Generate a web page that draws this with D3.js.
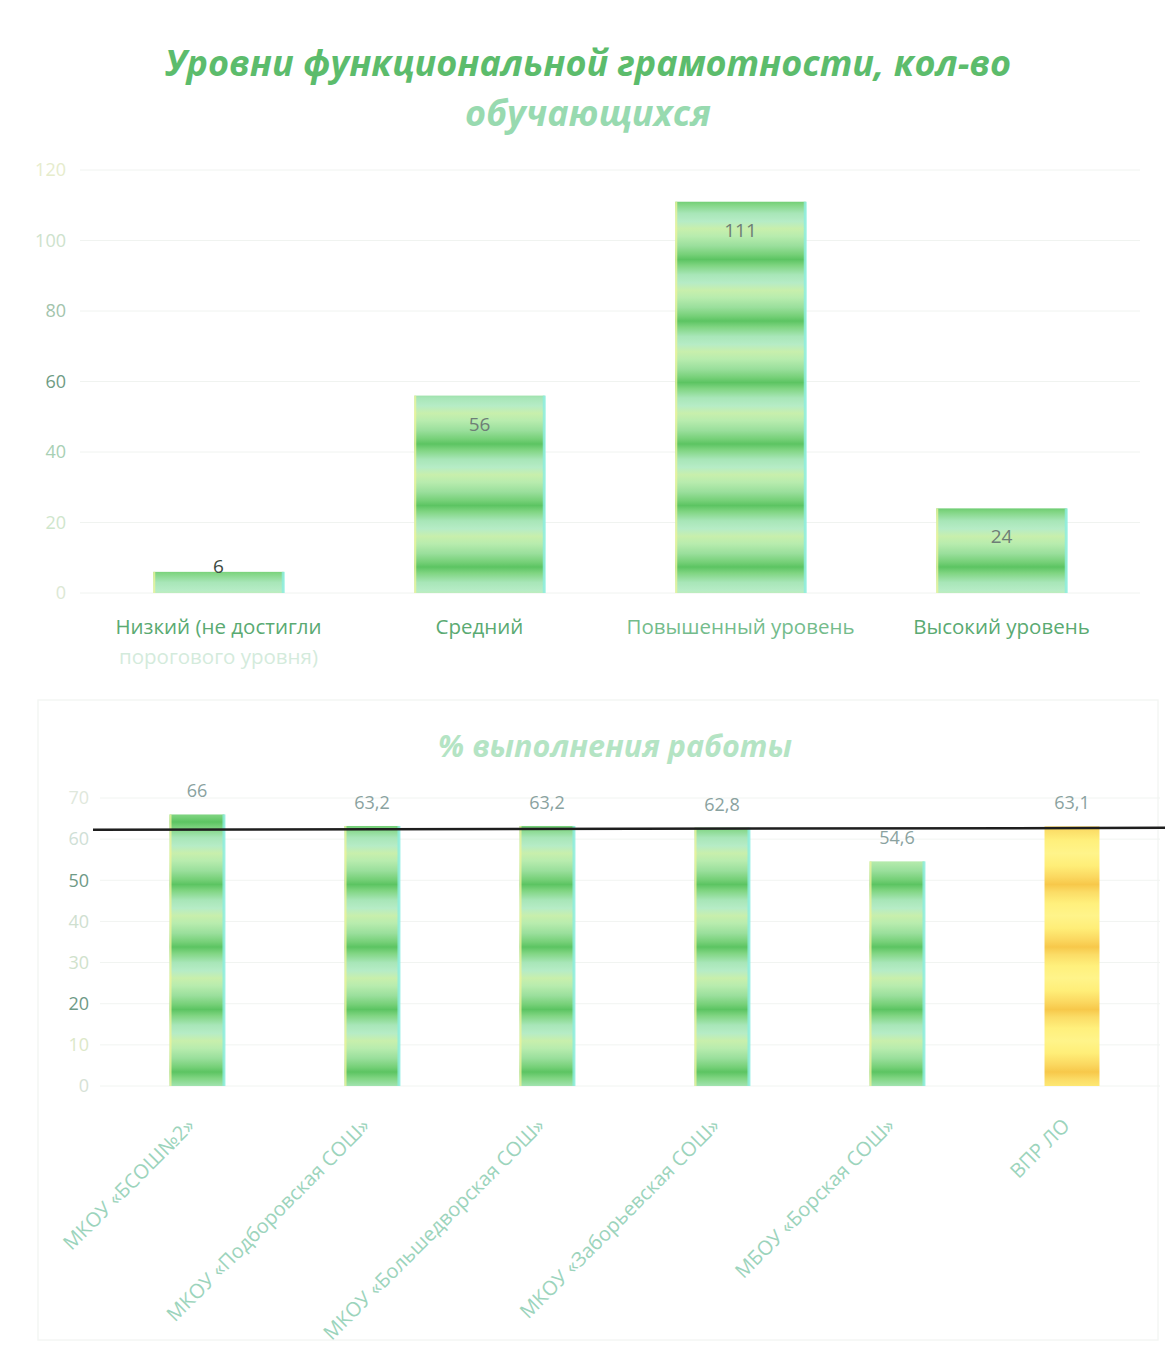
<!DOCTYPE html>
<html>
<head>
<meta charset="utf-8">
<script src="https://cdn.jsdelivr.net/npm/d3@7"></script>
<style>
  html, body { margin: 0; padding: 0; background: #fff; }
  svg { display: block; font-family: "Open Sans", "Noto Sans", sans-serif; }
</style>
</head>
<body>
<svg id="chart" width="1165" height="1347"></svg>
<script>
// ---------- DATA ----------
const levelTitle = ["Уровни функциональной грамотности, кол-во", "обучающихся"];
const levelCategories = [
  ["Низкий (не достигли", "порогового уровня)"],
  ["Средний"],
  ["Повышенный уровень"],
  ["Высокий уровень"]
];
const levelValues = [6, 56, 111, 24];
const levelTicks = [0, 20, 40, 60, 80, 100, 120];

const pctTitle = "% выполнения работы";
const schools = [
  "МКОУ «БСОШ№2»",
  "МКОУ «Подборовская СОШ»",
  "МКОУ «Большедворская СОШ»",
  "МКОУ «Заборьевская СОШ»",
  "МБОУ «Борская СОШ»",
  "ВПР ЛО"
];
const pctValues = [66, 63.2, 63.2, 62.8, 54.6, 63.1];
const pctTicks = [0, 10, 20, 30, 40, 50, 60, 70];
const pctReference = 62.5;

// ---------- DRAW ----------
const svg = d3.select("#chart");
const defs = svg.append("defs");

function stripeGradient(id, y0, period, stops) {
  const g = defs.append("linearGradient")
    .attr("id", id)
    .attr("gradientUnits", "userSpaceOnUse")
    .attr("spreadMethod", "repeat")
    .attr("x1", 0).attr("x2", 0)
    .attr("y1", y0).attr("y2", y0 + period);
  stops.forEach(s => g.append("stop").attr("offset", s[0]).attr("stop-color", s[1]));
}
const greenStops = [
  [0.00, "#5cc462"], [0.10, "#80d582"], [0.25, "#a8e6b8"], [0.38, "#b6ecc6"],
  [0.50, "#c8efac"], [0.62, "#b8ecae"], [0.78, "#9adf9c"], [0.92, "#76d078"], [1.00, "#5cc462"]
];
const yellowStops = [
  [0.00, "#f7c84a"], [0.12, "#fbdc66"], [0.30, "#fff07c"], [0.50, "#fff48a"],
  [0.70, "#ffee78"], [0.88, "#fbd860"], [1.00, "#f7c84a"]
];
stripeGradient("gTop", 567 - 61.5 * 9, 61.5, greenStops);
stripeGradient("gBot", 1072 - 62.5 * 16, 62.5, greenStops);
stripeGradient("yBot", 1072 - 62.5 * 16, 62.5, yellowStops);

// ===== Chart 1 =====
const c1 = { left: 88, right: 1132, top: 170, bottom: 593 };
const x1 = d3.scaleBand().domain(d3.range(levelValues.length)).range([c1.left, c1.right]).padding(0.5).paddingOuter(0.25);
const y1 = d3.scaleLinear().domain([0, 120]).range([c1.bottom, c1.top]);

svg.append("g").selectAll("text").data(levelTitle).join("text")
  .attr("x", 588).attr("y", (d, i) => 76 + i * 50)
  .attr("text-anchor", "middle")
  .attr("font-size", 36).attr("font-weight", 700).attr("font-style", "italic")
  .attr("fill", (d, i) => i === 0 ? "#5cbc6c" : "#98dab0")
  .text(d => d);

// gridlines
svg.append("g").selectAll("line").data(levelTicks).join("line")
  .attr("x1", 80).attr("x2", 1140)
  .attr("y1", d => y1(d)).attr("y2", d => y1(d))
  .attr("stroke", "#f0f3f0").attr("stroke-width", 1);

const ax1 = svg.append("g").attr("transform", `translate(66,0)`)
  .call(d3.axisLeft(y1).tickValues(levelTicks).tickSize(0).tickPadding(0));
ax1.select(".domain").remove();
ax1.selectAll("text").attr("font-size", 18).attr("font-family", "Open Sans")
  .attr("fill", d => ({0: "#dce8d4", 20: "#cfe6cc", 40: "#a8d0b4", 60: "#6f9c84", 80: "#a2c4ac", 100: "#cde2cc", 120: "#e6eccc"}[d]));

const bars1 = svg.append("g").selectAll("g").data(levelValues).join("g");
bars1.append("rect")
  .attr("x", (d, i) => x1(i)).attr("width", x1.bandwidth())
  .attr("y", d => y1(d)).attr("height", d => y1(0) - y1(d))
  .attr("fill", "url(#gTop)");
bars1.append("rect")
  .attr("x", (d, i) => x1(i)).attr("width", 2)
  .attr("y", d => y1(d)).attr("height", d => y1(0) - y1(d))
  .attr("fill", "#eef49a").attr("opacity", 0.8);
bars1.append("rect")
  .attr("x", (d, i) => x1(i) + x1.bandwidth() - 2).attr("width", 3)
  .attr("y", d => y1(d)).attr("height", d => y1(0) - y1(d))
  .attr("fill", "#8ceee0").attr("opacity", 0.8);

svg.append("g").selectAll("text").data(levelValues).join("text")
  .attr("x", (d, i) => x1(i) + x1.bandwidth() / 2)
  .attr("y", d => d < 15 ? y1(d) + 1 : y1(d) + 35)
  .attr("text-anchor", "middle")
  .attr("font-size", 19)
  .attr("fill", d => d < 15 ? "#3c4a40" : "#6e7e76")
  .text(d => d);

const cat1 = svg.append("g").selectAll("text").data(levelCategories).join("text")
  .attr("text-anchor", "middle")
  .attr("font-size", 20.5);
cat1.selectAll("tspan").data((d, i) => d.map((t, j) => ({ t, j, i }))).join("tspan")
  .attr("x", d => x1(d.i) + x1.bandwidth() / 2)
  .attr("y", d => 634 + d.j * 30)
  .attr("fill", d => d.j === 1 ? "#d4ebdc" : (d.i === 2 ? "#74bc8c" : "#5aaa72"))
  .text(d => d.t);

// faint frame of chart 2
svg.append("rect").attr("x", 38).attr("y", 700).attr("width", 1120).attr("height", 640)
  .attr("fill", "none").attr("stroke", "#f4f6f4").attr("stroke-width", 1.5);

// ===== Chart 2 =====
const c2 = { left: 109.5, right: 1159.5, top: 798, bottom: 1086 };
const x2 = d3.scaleBand().domain(d3.range(pctValues.length)).range([c2.left, c2.right]).paddingInner(0.686).paddingOuter(0.343);
const y2 = d3.scaleLinear().domain([0, 70]).range([c2.bottom, c2.top]);

svg.append("text")
  .attr("x", 615).attr("y", 757).attr("text-anchor", "middle")
  .attr("font-size", 30.5).attr("font-weight", 700).attr("font-style", "italic")
  .attr("fill", "#b4e4c4")
  .text(pctTitle);

svg.append("g").selectAll("line").data(pctTicks).join("line")
  .attr("x1", 100).attr("x2", 1160)
  .attr("y1", d => y2(d)).attr("y2", d => y2(d))
  .attr("stroke", "#f1f4f1").attr("stroke-width", 1);

const ax2 = svg.append("g").attr("transform", `translate(89,0)`)
  .call(d3.axisLeft(y2).tickValues(pctTicks).tickSize(0).tickPadding(0));
ax2.select(".domain").remove();
ax2.selectAll("text").attr("font-size", 18).attr("font-family", "Open Sans")
  .attr("fill", d => ({0: "#d6e2d6", 10: "#dce8c8", 20: "#6f9a86", 30: "#d0e2cc", 40: "#cfe0d0", 50: "#6f9a86", 60: "#cfe0d6", 70: "#dfe8dc"}[d]));

const bars2 = svg.append("g").selectAll("g").data(pctValues).join("g");
bars2.append("rect")
  .attr("x", (d, i) => x2(i)).attr("width", x2.bandwidth())
  .attr("y", d => y2(d)).attr("height", d => y2(0) - y2(d))
  .attr("fill", (d, i) => i === pctValues.length - 1 ? "url(#yBot)" : "url(#gBot)");
bars2.append("rect")
  .attr("x", (d, i) => x2(i)).attr("width", 2)
  .attr("y", d => y2(d)).attr("height", d => y2(0) - y2(d))
  .attr("fill", "#eef49a").attr("opacity", (d, i) => i === pctValues.length - 1 ? 0 : 0.8);
bars2.append("rect")
  .attr("x", (d, i) => x2(i) + x2.bandwidth() - 2).attr("width", 3)
  .attr("y", d => y2(d)).attr("height", d => y2(0) - y2(d))
  .attr("fill", "#8ceee0").attr("opacity", (d, i) => i === pctValues.length - 1 ? 0 : 0.8);

// reference line
svg.append("line")
  .attr("x1", 93).attr("x2", 1165)
  .attr("y1", y2(pctReference) + 1).attr("y2", y2(pctReference) - 1)
  .attr("stroke", "#1e1e1e").attr("stroke-width", 2.5);

svg.append("g").selectAll("text").data(pctValues).join("text")
  .attr("x", (d, i) => x2(i) + x2.bandwidth() / 2)
  .attr("y", d => y2(d) - 17)
  .attr("text-anchor", "middle")
  .attr("font-size", 18)
  .attr("fill", "#8aa2a0")
  .text(d => String(d).replace(".", ","));

svg.append("g").selectAll("text").data(schools).join("text")
  .attr("transform", (d, i) => `translate(${x2(i) + x2.bandwidth() / 2 - 6},${1122}) rotate(-45)`)
  .attr("text-anchor", "end")
  .attr("dy", "0.35em")
  .attr("font-size", 20)
  .attr("fill", "#9cd4bc")
  .text(d => d);
</script>
</body>
</html>
